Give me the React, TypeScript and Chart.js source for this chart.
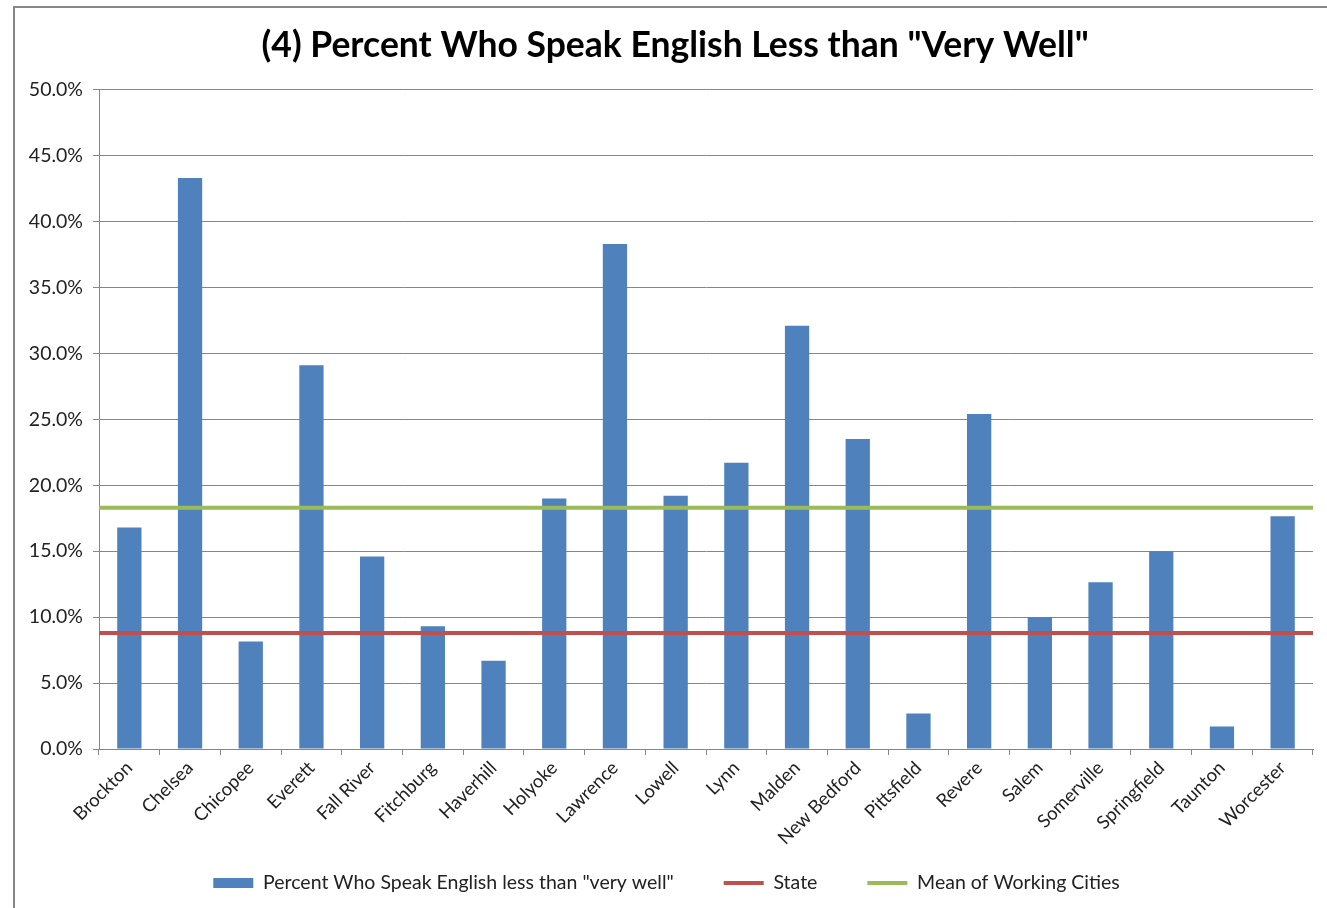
import React, { useEffect, useRef } from "react";
import { Chart, registerables } from "chart.js";

Chart.register(...registerables);

const categories = [
  "Brockton", "Chelsea", "Chicopee", "Everett", "Fall River", "Fitchburg", "Haverhill",
  "Holyoke", "Lawrence", "Lowell", "Lynn", "Malden", "New Bedford", "Pittsfield",
  "Revere", "Salem", "Somerville", "Springfield", "Taunton", "Worcester",
];

const percentValues = [
  16.8, 43.3, 8.15, 29.1, 14.6, 9.3, 6.7, 19.0, 38.3, 19.2,
  21.7, 32.1, 23.5, 2.7, 25.4, 10.0, 12.65, 15.0, 1.7, 17.65,
];

const refLineEnds = ["start", "end"];
const stateValues = [8.8, 8.8];
const meanValues = [18.3, 18.3];

const yTicks = { min: 0, max: 50, step: 5 };

const FONT = "Lato, 'Open Sans', sans-serif";
const LABEL_SIZE = 19.5;
const LEGEND_GAP = 48;
const LEGEND_PAD = 20;

export default function App() {
  const ref = useRef<HTMLCanvasElement | null>(null);

  useEffect(() => {
    if (!ref.current) return;
    const chart = new Chart(ref.current, {
      type: "bar",
      data: {
        labels: categories,
        datasets: [
          {
            type: "bar",
            label: 'Percent Who Speak English less than "very well"',
            data: percentValues,
            backgroundColor: "#4F81BD",
            borderWidth: 0,
            barPercentage: 0.4,
            categoryPercentage: 1,
            grouped: false,
            pointStyle: "rect",
            order: 2,
          } as any,
          {
            type: "line",
            label: "State",
            data: stateValues,
            xAxisID: "x2",
            borderColor: "#C0504D",
            backgroundColor: "#C0504D",
            borderWidth: 4,
            pointRadius: 0,
            pointHoverRadius: 0,
            pointBorderWidth: 4,
            pointBorderColor: "#C0504D",
            pointStyle: "line",
            grouped: false,
            order: 1,
          } as any,
          {
            type: "line",
            label: "Mean of Working Cities",
            data: meanValues,
            xAxisID: "x2",
            borderColor: "#9BBB59",
            backgroundColor: "#9BBB59",
            borderWidth: 4,
            pointRadius: 0,
            pointHoverRadius: 0,
            pointBorderWidth: 4,
            pointBorderColor: "#9BBB59",
            pointStyle: "line",
            grouped: false,
            order: 0,
          } as any,
        ],
      },
      options: {
        animation: false,
        responsive: false,
        maintainAspectRatio: false,
        layout: { padding: { left: 20, right: 14, top: 8, bottom: 5.25 } },
        plugins: {
          title: {
            display: true,
            text: '  (4) Percent Who Speak English Less than "Very Well"',
            color: "#000",
            font: { family: FONT, size: 35.5, weight: "bold" },
            padding: { top: 16, bottom: 23 },
          },
          legend: {
            position: "bottom",
            labels: {
              usePointStyle: true,
              pointStyleWidth: 40,
              boxHeight: 10,
              padding: LEGEND_PAD,
              color: "#222",
              font: { family: FONT, size: LABEL_SIZE },
              sort: (a: any, b: any) => a.datasetIndex - b.datasetIndex,
              generateLabels: (c: any) => {
                const items = (Chart.defaults.plugins.legend.labels as any).generateLabels(c);
                const ctx = c.ctx;
                ctx.save();
                ctx.font = `${LABEL_SIZE}px ${FONT}`;
                const sw = ctx.measureText(" ").width || 5;
                ctx.restore();
                const n = Math.max(0, Math.round((LEGEND_GAP - LEGEND_PAD) / sw));
                const pad = " ".repeat(n);
                items.sort((a: any, b: any) => a.datasetIndex - b.datasetIndex);
                return items.map((it: any, i: number) =>
                  i < items.length - 1 ? { ...it, text: it.text + pad } : it
                );
              },
            },
          },
          tooltip: { enabled: false },
        },
        scales: {
          x: {
            type: "category",
            offset: true,
            grid: {
              display: true,
              drawOnChartArea: false,
              drawTicks: true,
              tickLength: 6,
              offset: true,
              color: "#868686",
            },
            border: { display: true, color: "#868686", width: 1 },
            ticks: {
              autoSkip: false,
              minRotation: 45,
              maxRotation: 45,
              padding: 2,
              color: "#222",
              font: { family: FONT, size: 18.5 },
            },
            afterFit: (scale: any) => {
              scale.height = 104.25;
            },
          },
          x2: {
            type: "category",
            labels: refLineEnds,
            offset: false,
            display: false,
          },
          y: {
            min: yTicks.min,
            max: yTicks.max,
            grid: {
              color: "#868686",
              tickLength: 6,
              drawTicks: true,
            },
            border: { display: true, color: "#868686", width: 1 },
            ticks: {
              stepSize: yTicks.step,
              padding: 10,
              color: "#222",
              font: { family: FONT, size: LABEL_SIZE },
              callback: (v: any) => Number(v).toFixed(1) + "%",
            },
            afterFit: (scale: any) => {
              scale.width = 79;
            },
          },
        },
      } as any,
    });
    return () => chart.destroy();
  }, []);

  return (
    <div style={{ position: "fixed", left: 0, top: 0, width: 1327, height: 908, background: "#fff", overflow: "hidden" }}>
      <canvas ref={ref} width={1327} height={908} style={{ position: "absolute", left: 0, top: 0, width: 1327, height: 908 }} />
      <div
        style={{
          position: "absolute",
          left: 13,
          top: 6,
          width: 1400,
          height: 1000,
          borderTop: "2px solid #878787",
          borderLeft: "2px solid #878787",
          pointerEvents: "none",
        }}
      />
    </div>
  );
}
